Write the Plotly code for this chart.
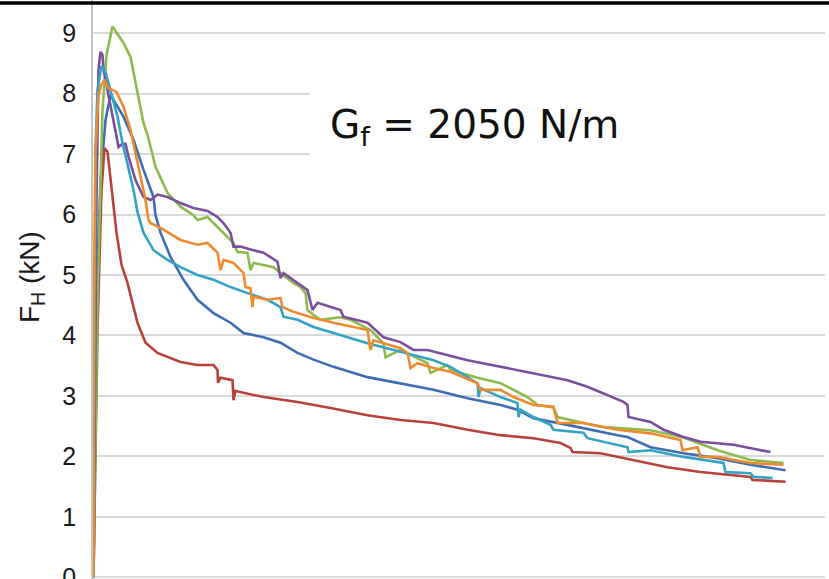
import plotly.graph_objects as go

# Horizontal displacement (arbitrary units, axis unlabeled) and force F_H (kN)
blue_x = [0, 0.3, 0.7, 1.2, 1.7, 2.0, 3.0, 4.0, 5.0, 6.0, 6.2, 6.7, 7.7, 9.0, 10.4, 12.0, 13.7, 15.0, 17.0, 18.7,
          20.4, 22.0, 24.0, 27.4, 30.7, 34.0, 37.4, 40.7, 42.4, 44.0, 47.4, 50.7, 52.4, 53.4, 55.7, 59.0, 62.4, 65.7, 69.2]
blue_y = [0, 4.59, 6.57, 7.56, 7.98, 7.90, 7.62, 7.24, 6.74, 6.29, 5.99, 5.70, 5.30, 4.92, 4.59, 4.37, 4.21, 4.04, 3.97, 3.88,
          3.71, 3.60, 3.48, 3.31, 3.21, 3.10, 2.96, 2.85, 2.77, 2.63, 2.52, 2.40, 2.35, 2.32, 2.15, 2.05, 1.97, 1.86, 1.77]

red_x = [0, 0.4, 0.8, 1.1, 1.4, 1.7, 1.9, 2.3, 2.8, 3.4, 4.4, 5.2, 6.4, 8.7, 10.4, 12.0, 12.4, 12.45, 12.7, 13.9, 14.0,
         14.2, 17.0, 20.4, 23.7, 27.4, 30.7, 34.0, 37.4, 40.7, 44.0, 46.7, 47.7, 47.9, 50.7, 54.0, 57.4, 60.7, 64.0, 65.7, 65.9, 69.2]
red_y = [0, 4.09, 6.41, 7.10, 7.04, 6.57, 6.24, 5.70, 5.17, 4.87, 4.21, 3.88, 3.71, 3.56, 3.51, 3.51, 3.43, 3.22, 3.30, 3.26, 2.93,
         3.08, 2.98, 2.90, 2.80, 2.68, 2.60, 2.55, 2.44, 2.35, 2.30, 2.22, 2.14, 2.07, 2.05, 1.94, 1.82, 1.74, 1.69, 1.66, 1.61, 1.58]

green_x = [0, 0.4, 0.9, 1.3, 1.9, 2.3, 3.0, 3.7, 4.4, 5.0, 5.4, 6.2, 7.4, 8.7, 10.0, 10.4, 11.4, 12.0, 13.0, 14.0, 14.4,
           15.4, 15.7, 16.0, 18.0, 18.7, 20.0, 20.7, 21.2, 21.4, 22.0, 22.7, 24.7, 25.7, 27.7, 29.0, 29.2, 30.7, 33.4, 33.7,
           35.4, 35.7, 38.4, 40.7, 43.4, 44.4, 46.0, 46.4, 49.0, 50.7, 55.7, 59.0, 62.4, 65.7, 69.0]
green_y = [0, 4.59, 7.73, 8.64, 9.11, 9.01, 8.84, 8.61, 8.01, 7.51, 7.32, 6.79, 6.36, 6.13, 5.99, 5.91, 5.96, 5.86, 5.70, 5.53, 5.38,
           5.37, 5.08, 5.20, 5.13, 5.03, 4.87, 4.80, 4.70, 4.42, 4.34, 4.26, 4.30, 4.26, 4.09, 3.87, 3.64, 3.76, 3.54, 3.38,
           3.51, 3.43, 3.30, 3.21, 2.98, 2.85, 2.81, 2.65, 2.55, 2.49, 2.43, 2.31, 2.10, 1.94, 1.89]

purple_x = [0, 0.3, 0.5, 0.7, 0.9, 1.0, 1.4, 2.0, 2.5, 2.9, 3.2, 3.5, 4.2, 5.0, 5.7, 6.4, 7.4, 8.7, 10.0, 11.4, 12.4, 13.0,
            13.7, 14.0, 14.7, 15.7, 17.0, 18.4, 18.7, 19.0, 20.4, 21.4, 21.7, 21.9, 22.4, 24.7, 25.0, 27.4, 29.0, 30.7, 32.0,
            33.4, 37.4, 40.7, 44.0, 47.4, 49.4, 50.7, 53.0, 53.4, 53.5, 55.7, 57.0, 59.0, 60.7, 64.0, 67.7]
purple_y = [0, 6.24, 8.40, 8.69, 8.64, 8.40, 8.06, 7.53, 7.12, 7.17, 7.17, 6.96, 6.57, 6.29, 6.24, 6.33, 6.29, 6.19, 6.11, 6.06, 5.96, 5.86,
            5.70, 5.47, 5.47, 5.42, 5.37, 5.22, 4.95, 5.03, 4.87, 4.75, 4.55, 4.42, 4.54, 4.42, 4.31, 4.21, 3.97, 3.89, 3.76,
            3.76, 3.59, 3.48, 3.38, 3.26, 3.15, 3.06, 2.90, 2.85, 2.65, 2.57, 2.44, 2.32, 2.24, 2.19, 2.07]

cyan_x = [0, 0.2, 0.4, 0.8, 1.2, 1.7, 2.4, 2.9, 3.4, 4.0, 4.4, 5.0, 6.0, 7.4, 8.7, 10.4, 12.0, 13.7, 15.4, 17.4, 18.7, 19.0,
          20.4, 22.0, 24.0, 27.4, 30.7, 34.0, 35.7, 38.4, 38.5, 38.7, 40.7, 42.4, 42.5, 42.7, 44.0, 45.7, 46.0, 49.0, 49.4,
          52.4, 53.4, 53.5, 55.7, 59.0, 63.0, 63.2, 65.7, 66.0, 67.9]
cyan_y = [0, 7.07, 8.06, 8.46, 8.36, 8.06, 7.62, 7.19, 6.85, 6.41, 6.04, 5.70, 5.41, 5.25, 5.13, 5.00, 4.92, 4.80, 4.70, 4.59, 4.47, 4.31,
          4.26, 4.14, 4.04, 3.87, 3.73, 3.59, 3.48, 3.21, 2.98, 3.13, 2.98, 2.88, 2.65, 2.77, 2.65, 2.52, 2.44, 2.39, 2.30,
          2.19, 2.15, 2.07, 2.10, 1.99, 1.89, 1.74, 1.72, 1.66, 1.64]

orange_x = [0, 0.05, 0.2, 0.5, 0.8, 1.1, 1.4, 1.9, 2.3, 3.0, 3.7, 4.2, 4.7, 5.2, 5.5, 5.7, 7.0, 8.7, 10.4, 11.4, 12.4, 12.7,
            13.0, 14.0, 15.0, 15.2, 15.7, 15.9, 16.0, 17.4, 18.7, 18.9, 20.0, 22.0, 24.0, 27.4, 27.7, 28.0, 30.7, 31.4, 31.7,
            32.4, 34.0, 35.7, 38.4, 38.7, 40.7, 42.0, 44.0, 46.0, 46.4, 49.0, 52.4, 55.7, 58.7, 58.9, 60.4, 60.7, 62.4, 65.7, 69.0]
orange_y = [0, 4.59, 7.07, 7.98, 8.15, 8.23, 8.10, 8.06, 8.03, 7.78, 7.40, 7.02, 6.62, 6.24, 5.91, 5.86, 5.75, 5.58, 5.50, 5.53, 5.37, 5.08,
            5.25, 5.20, 5.03, 4.80, 4.78, 4.47, 4.64, 4.59, 4.62, 4.47, 4.39, 4.29, 4.21, 4.09, 3.76, 3.92, 3.79, 3.71, 3.46,
            3.54, 3.46, 3.40, 3.21, 3.10, 3.10, 2.98, 2.85, 2.82, 2.55, 2.55, 2.44, 2.38, 2.27, 2.10, 2.15, 1.99, 1.99, 1.89, 1.86]

series = [
    ("Test 1", blue_x, blue_y, "#3d6db4"),
    ("Test 2", red_x, red_y, "#b8413c"),
    ("Test 3", green_x, green_y, "#8fba4c"),
    ("Test 4", purple_x, purple_y, "#7a4f9e"),
    ("Test 5", cyan_x, cyan_y, "#33a3c6"),
    ("Test 6", orange_x, orange_y, "#ef8a2e"),
]

y_ticks = [0, 1, 2, 3, 4, 5, 6, 7, 8, 9]

W, H = 829, 579
L, R = 93, 4
PW = W - L - R

fig = go.Figure()
for name, xs, ys, col in series:
    fig.add_trace(go.Scatter(x=xs, y=ys, mode="lines", name=name,
                             line=dict(color=col, width=2.6)))

def px_x(p):
    return (p - L) / PW

def px_y(p):
    return 1 - p / H

fig.update_layout(
    width=W, height=H,
    margin=dict(l=L, r=R, t=0, b=0, autoexpand=False),
    paper_bgcolor="white", plot_bgcolor="white",
    showlegend=False,
    font=dict(family="Liberation Sans, Arial, sans-serif", color="#1a1a1a"),
    xaxis=dict(range=[-0.05, 73.15], showgrid=False, zeroline=False, automargin=False,
               showticklabels=False, showline=False, ticks=""),
    yaxis=dict(range=[-0.03, 9.55], tickvals=y_ticks, ticktext=[str(v) for v in y_ticks],
               showgrid=True, gridcolor="#d9d9d9", gridwidth=2, automargin=False,
               zeroline=False, showline=True, linecolor="#c4c4c4", linewidth=1.5,
               ticks="", tickfont=dict(size=25, color="#1a1a1a"),
               ticklabelstandoff=10, ticklabeloverflow="allow"),
    shapes=[
        dict(type="rect", xref="paper", yref="paper",
             x0=px_x(310), x1=1.02, y0=px_y(185), y1=px_y(62),
             fillcolor="white", line=dict(width=0), layer="above"),
        dict(type="line", xref="paper", yref="paper",
             x0=-0.2, x1=1.1, y0=px_y(3), y1=px_y(3),
             line=dict(color="black", width=3.5), layer="above"),
    ],
    annotations=[
        dict(text="G<sub>f</sub> = 2050 N/m", xref="paper", yref="paper",
             x=px_x(328), y=px_y(127), xanchor="left", yanchor="middle",
             showarrow=False, font=dict(family="DejaVu Sans", size=39, color="#111111")),
        dict(text="F<sub>H</sub> (kN)", xref="paper", yref="paper",
             x=px_x(31), y=px_y(277), xanchor="center", yanchor="middle",
             textangle=-90, showarrow=False,
             font=dict(family="Liberation Sans, Arial, sans-serif", size=28, color="#1a1a1a")),
    ],
)

fig.write_html("out.html", config={"displayModeBar": False},
               post_script="document.body.style.margin='0px';document.body.style.overflow='hidden';")
